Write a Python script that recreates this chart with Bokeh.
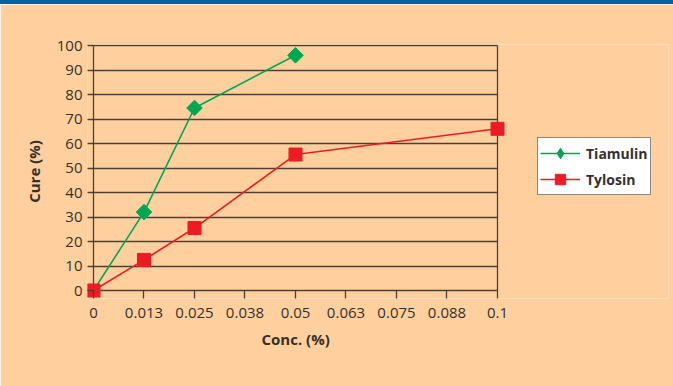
import math

from bokeh.plotting import figure
from bokeh.models import Range1d, FixedTicker, Legend, LegendItem, Div, Title
from bokeh.layouts import column
from bokeh.embed import file_html
from bokeh.resources import INLINE

# Concentration axis ticks and their printed labels
conc_ticks = [0, 0.0125, 0.025, 0.0375, 0.05, 0.0625, 0.075, 0.0875, 0.1]
conc_tick_labels = ["0", "0.013", "0.025", "0.038", "0.05", "0.063", "0.075", "0.088", "0.1"]
cure_ticks = [0, 10, 20, 30, 40, 50, 60, 70, 80, 90, 100]

# Cure rate (%) versus drug concentration (%)
tiamulin_conc = [0, 0.0125, 0.025, 0.05]
tiamulin_cure = [0, 32, 74.5, 96]
tylosin_conc = [0, 0.0125, 0.025, 0.05, 0.1]
tylosin_cure = [0, 12.5, 25.5, 55.5, 66]

BG = "#FFD09E"
INK = "#4a4038"
TEXT = "#35302c"
GREEN = "#00A651"
RED = "#ED1C24"
FONT = "Open Sans"

# The plotting frame runs past the data (room for edge markers and the legend);
# the visible box is drawn by gridlines bounded to the data extent.
p = figure(
    width=673, height=382,
    x_range=Range1d(-0.001485, 0.14233), y_range=Range1d(-3.265, 100.41),
    min_border_left=87, min_border_right=5, min_border_top=40, min_border_bottom=88,
    background_fill_color=BG, border_fill_color=BG, outline_line_color=None,
    output_backend="svg", toolbar_location=None, margin=0,
)

p.xgrid.ticker = FixedTicker(ticks=[conc_ticks[0], conc_ticks[-1]])
p.xgrid.cross_bounds = (cure_ticks[0], cure_ticks[-1])
p.xgrid.grid_line_color = INK
p.xgrid.grid_line_width = 1.3
p.ygrid.ticker = FixedTicker(ticks=cure_ticks)
p.ygrid.cross_bounds = (conc_ticks[0], conc_ticks[-1])
p.ygrid.grid_line_color = INK
p.ygrid.grid_line_width = 1.3

for ax in (p.xaxis[0], p.yaxis[0]):
    ax.axis_line_color = None
    ax.major_tick_line_color = INK
    ax.major_tick_line_width = 1.3
    ax.minor_tick_line_color = None
    ax.major_tick_out = 0
    ax.major_label_text_font = FONT
    ax.major_label_text_font_size = "15px"
    ax.major_label_text_color = TEXT
    ax.axis_label_text_font = FONT
    ax.axis_label_text_font_size = "15px"
    ax.axis_label_text_font_style = "bold"
    ax.axis_label_text_color = TEXT

xa = p.xaxis[0]
xa.ticker = FixedTicker(ticks=conc_ticks)
xa.major_label_overrides = {t: s for t, s in zip(conc_ticks, conc_tick_labels)}
xa.major_tick_in = 8
xa.major_label_standoff = 9

ya = p.yaxis[0]
ya.ticker = FixedTicker(ticks=cure_ticks)
ya.major_tick_in = 6
ya.major_label_standoff = 5
ya.axis_label = "Cure (%)"
ya.axis_label_standoff = 10

# x-axis title, centred under the data box rather than the wider frame
p.add_layout(Title(text="Conc. (%)", align="left", offset=174, standoff=13,
                   text_font=FONT, text_font_size="15px", text_font_style="bold",
                   text_color=TEXT), "below")

g_line = p.line(tiamulin_conc, tiamulin_cure, line_color=GREEN, line_width=1.6)
g_mark = p.scatter(tiamulin_conc[1:], tiamulin_cure[1:], marker="square", size=11,
                   angle=math.pi / 4, fill_color=GREEN, line_color=GREEN)
r_line = p.line(tylosin_conc, tylosin_cure, line_color=RED, line_width=1.6)
r_mark = p.scatter(tylosin_conc, tylosin_cure, marker="square", size=13,
                   fill_color=RED, line_color=RED)

# legend key for the diamonds; its single point is NaN so it never shows in the plot
g_key = p.scatter([float("nan")], [float("nan")], marker="diamond",
                  fill_color=GREEN, line_color=GREEN)

legend = Legend(
    items=[LegendItem(label="Tiamulin", renderers=[g_line, g_key]),
           LegendItem(label="Tylosin", renderers=[r_line, r_mark])],
    location=(450, 103), margin=0, padding=2, spacing=0,
    glyph_width=40, glyph_height=26, label_height=26, label_standoff=6,
    background_fill_color="white", background_fill_alpha=1,
    border_line_color="#111111", border_line_width=1.5,
    label_text_font=FONT, label_text_font_size="14px", label_text_font_style="bold",
    label_text_color=TEXT,
)
p.add_layout(legend)

top_bar = Div(width=673, height=4, margin=0, styles={"background-color": "#006699"})
page = column(top_bar, p, spacing=0, margin=0)

open("out.html", "w").write(file_html(page, INLINE))
